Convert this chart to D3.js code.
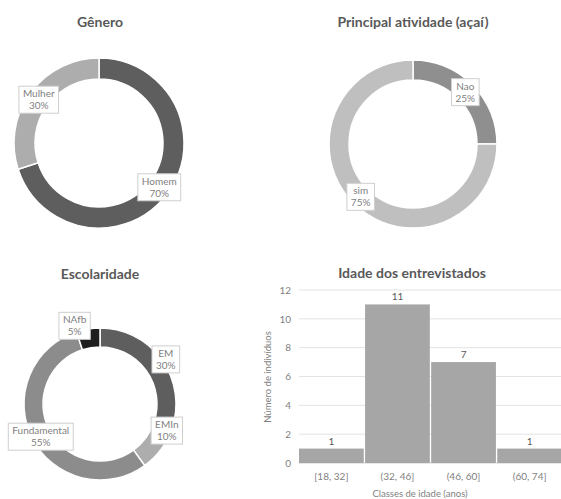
<!DOCTYPE html>
<html>
<head>
<meta charset="utf-8">
<script src="https://cdn.jsdelivr.net/npm/d3@7"></script>
<style>
  html, body { margin: 0; padding: 0; background: #fff; }
  svg { display: block; font-family: Lato, "Open Sans", sans-serif; }
</style>
</head>
<body>
<svg id="chart" width="561" height="499"></svg>
<script>
// Gênero
const generoCategories = ["Homem", "Mulher"];
const generoValues = [70, 30];
// Principal atividade (açaí)
const atividadeCategories = ["Nao", "sim"];
const atividadeValues = [25, 75];
// Escolaridade
const escolaridadeCategories = ["EM", "EMIn", "Fundamental", "NAfb"];
const escolaridadeValues = [30, 10, 55, 5];
// Idade dos entrevistados
const idadeClasses = ["[18, 32]", "(32, 46]", "(46, 60]", "(60, 74]"];
const idadeCounts = [1, 11, 7, 1];
const idadeTicks = [0, 2, 4, 6, 8, 10, 12];

const svg = d3.select("#chart");
const titleColor = "#595959";
const textColor = "#7f7f7f";

function title(x, y, text) {
  svg.append("text")
    .attr("x", x).attr("y", y)
    .attr("text-anchor", "middle")
    .attr("font-size", 14).attr("font-weight", "bold")
    .attr("fill", titleColor)
    .text(text);
}

// Donut with boxed data labels (name + percentage)
function donut(cfg) {
  const g = svg.append("g").attr("transform", `translate(${cfg.cx},${cfg.cy})`);
  const pie = d3.pie().sort(null).value(d => d.value);
  const arcs = pie(cfg.categories.map((c, i) => ({ name: c, value: cfg.values[i] })));
  const arc = d3.arc().innerRadius(cfg.inner).outerRadius(cfg.outer);
  const color = d3.scaleOrdinal().domain(cfg.categories).range(cfg.colors);
  const total = d3.sum(cfg.values);

  g.selectAll("path.slice").data(arcs).join("path")
    .attr("class", "slice")
    .attr("d", arc)
    .attr("fill", d => color(d.data.name))
    .attr("stroke", "#fff")
    .attr("stroke-width", 1.5);

  const mid = (cfg.inner + cfg.outer) / 2;
  const labelArc = d3.arc().innerRadius(mid).outerRadius(mid);
  arcs.forEach(d => {
    const [lx, ly] = labelArc.centroid(d);
    const nudge = (cfg.nudge && cfg.nudge[d.data.name]) || [0, 0];
    const lg = g.append("g").attr("transform", `translate(${lx + nudge[0]},${ly + nudge[1]})`);
    const pct = Math.round(d.data.value / total * 100) + "%";
    const t1 = lg.append("text").attr("text-anchor", "middle").attr("y", -2)
      .attr("font-size", 10).attr("fill", textColor).text(d.data.name);
    const t2 = lg.append("text").attr("text-anchor", "middle").attr("y", 10)
      .attr("font-size", 10).attr("fill", textColor).text(pct);
    const w = Math.max(t1.node().getComputedTextLength(), t2.node().getComputedTextLength()) + 8;
    lg.insert("rect", "text")
      .attr("x", -w / 2).attr("y", -13).attr("width", w).attr("height", 27)
      .attr("fill", "#fff").attr("stroke", "#cfcfcf").attr("stroke-width", 1);
  });
}

title(100, 27, "Gênero");
donut({
  cx: 99, cy: 143, outer: 85, inner: 64,
  categories: generoCategories, values: generoValues,
  colors: ["#5e5e5e", "#adadad"]
});

title(413, 27, "Principal atividade (açaí)");
donut({
  cx: 413, cy: 144, outer: 84, inner: 64,
  categories: atividadeCategories, values: atividadeValues,
  colors: ["#8f8f8f", "#bfbfbf"]
});

title(100, 279, "Escolaridade");
donut({
  cx: 100, cy: 404, outer: 76, inner: 57,
  categories: escolaridadeCategories, values: escolaridadeValues,
  colors: ["#5e5e5e", "#adadad", "#8c8c8c", "#1f1f1f"],
  nudge: { EM: [12, -6], EMIn: [13, -13], Fundamental: [0, 2], NAfb: [-15, -13] }
});

// Histogram: Idade dos entrevistados
title(412, 278, "Idade dos entrevistados");
const x = d3.scaleBand().domain(idadeClasses).range([299, 562]).paddingInner(0.02).paddingOuter(0);
const y = d3.scaleLinear().domain([0, 12]).range([463, 290]);

const grid = svg.append("g");
grid.selectAll("line").data(idadeTicks).join("line")
  .attr("x1", 299).attr("x2", 561)
  .attr("y1", d => y(d)).attr("y2", d => y(d))
  .attr("stroke", d => d === 0 ? "#d0d0d0" : "#e3e3e3")
  .attr("stroke-width", 1);

const yAxis = d3.axisLeft(y).tickValues(idadeTicks).tickSize(0).tickPadding(8);
svg.append("g").attr("transform", "translate(299,0)").call(yAxis)
  .call(g => g.select(".domain").remove())
  .call(g => g.selectAll("text").attr("fill", textColor).attr("font-size", 10)
    .attr("font-family", "Lato, 'Open Sans', sans-serif"));

svg.append("g").selectAll("rect").data(idadeClasses).join("rect")
  .attr("x", d => x(d)).attr("width", x.bandwidth())
  .attr("y", (d, i) => y(idadeCounts[i]))
  .attr("height", (d, i) => y(0) - y(idadeCounts[i]))
  .attr("fill", "#a6a6a6");

svg.append("g").selectAll("text").data(idadeClasses).join("text")
  .attr("x", d => x(d) + x.bandwidth() / 2)
  .attr("y", (d, i) => y(idadeCounts[i]) - 4)
  .attr("text-anchor", "middle").attr("font-size", 10).attr("fill", titleColor)
  .text((d, i) => idadeCounts[i]);

const xAxis = d3.axisBottom(x).tickSize(0).tickPadding(10);
svg.append("g").attr("transform", "translate(0,463)").call(xAxis)
  .call(g => g.select(".domain").remove())
  .call(g => g.selectAll("text").attr("fill", textColor).attr("font-size", 10)
    .attr("font-family", "Lato, 'Open Sans', sans-serif"));

svg.append("text")
  .attr("x", 420).attr("y", 497)
  .attr("text-anchor", "middle").attr("font-size", 9.5).attr("fill", textColor)
  .text("Classes de idade (anos)");

svg.append("text")
  .attr("transform", "translate(271,377) rotate(-90)")
  .attr("text-anchor", "middle").attr("font-size", 9.5).attr("fill", textColor)
  .text("Número de indivíduos");
</script>
</body>
</html>
